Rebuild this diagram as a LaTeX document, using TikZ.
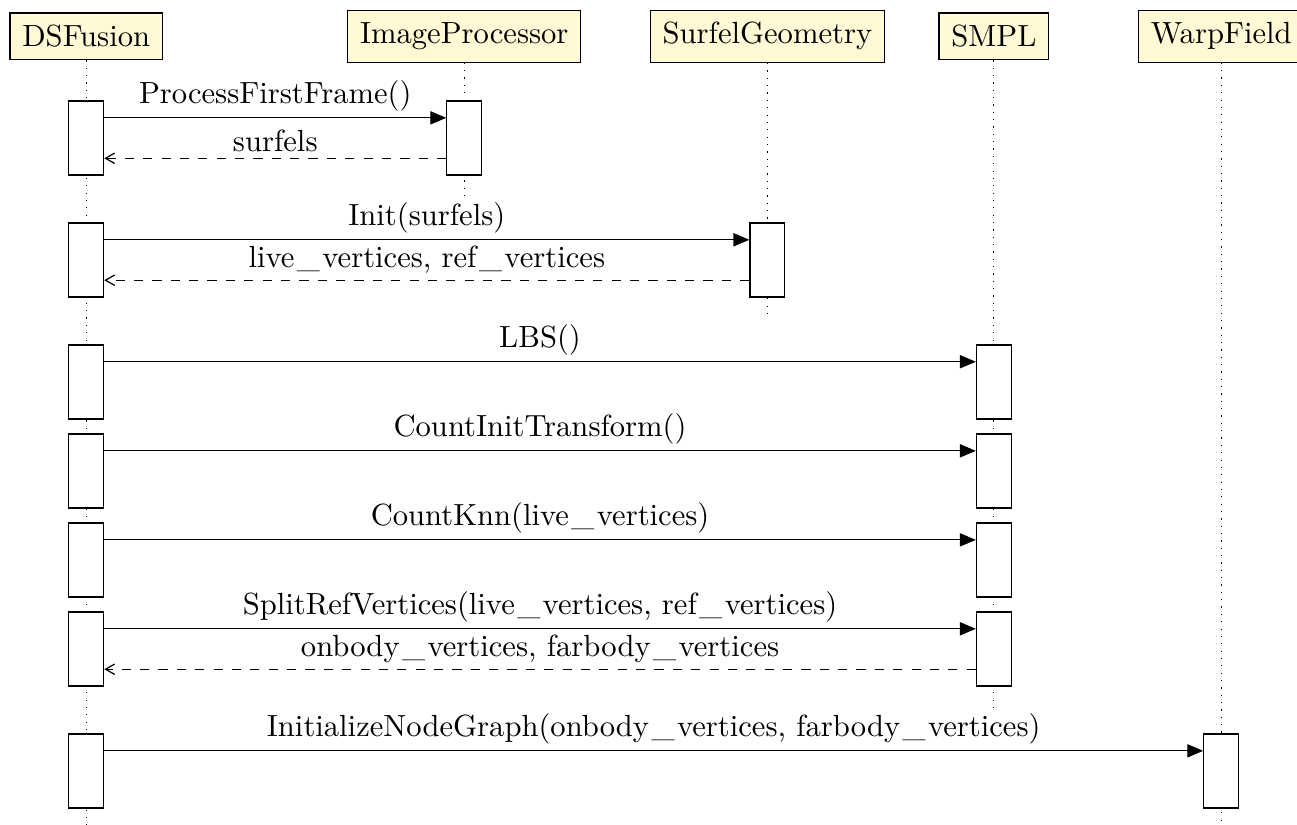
\documentclass[tikz,border=0pt]{standalone}
\usetikzlibrary{arrows.meta}

\definecolor{headfill}{HTML}{FFF9D5}
\newcommand{\us}{\kern0.8pt\_\kern0.8pt}
\tikzset{
  thread/.style={draw,fill=headfill,inner sep=4pt},
  act/.style={draw,fill=white,minimum width=0.4cm,minimum height=0.85cm,inner sep=0pt},
  life/.style={dotted},
  call/.style={-{Triangle[length=5.2pt,width=4.3pt]}},
  ret/.style={dashed,-{Straight Barb[length=3pt,width=3.4pt]}},
  msg/.style={above,inner sep=2pt}
}

\begin{document}
\begin{tikzpicture}
  \useasboundingbox (0,0) rectangle (14.89,-9.47);
  % threads
  \node[thread] (ds)   at (0.99,-0.417)  {DSFusion};
  \node[thread] (ip)   at (5.33,-0.417)  {ImageProcessor};
  \node[thread] (sg)   at (8.81,-0.417)  {SurfelGeometry};
  \node[thread] (smpl) at (11.41,-0.417) {SMPL};
  \node[thread] (wf)   at (14.02,-0.417) {WarpField};
  \coordinate (ds end)   at (0.99,-9.5);
  \coordinate (ip end)   at (5.33,-2.24);
  \coordinate (sg end)   at (8.81,-3.65);
  \coordinate (smpl end) at (11.41,-8.12);
  \coordinate (wf end)   at (14.02,-9.5);
  \draw[life] (ds) -- (ds end);
  \draw[life] (ip) -- (ip end);
  \draw[life] (sg) -- (sg end);
  \draw[life] (smpl) -- (smpl end);
  \draw[life] (wf) -- (wf end);
  % activations
  \node[act] (ds1) at (0.99,-1.585) {};
  \node[act] (ds2) at (0.99,-2.985) {};
  \node[act] (ds3) at (0.99,-4.385) {};
  \node[act] (ds4) at (0.99,-5.408) {};
  \node[act] (ds5) at (0.99,-6.430) {};
  \node[act] (ds6) at (0.99,-7.451) {};
  \node[act] (ds7) at (0.99,-8.852) {};
  \node[act] (ip1)   at (ip |- ds1)   {};
  \node[act] (sg1)   at (sg |- ds2)   {};
  \node[act] (smpl1) at (smpl |- ds3) {};
  \node[act] (smpl2) at (smpl |- ds4) {};
  \node[act] (smpl3) at (smpl |- ds5) {};
  \node[act] (smpl4) at (smpl |- ds6) {};
  \node[act] (wf1)   at (wf |- ds7)   {};
  % messages
  \draw[call] ([yshift=-0.2cm]ds1.north east) -- node[msg] {ProcessFirstFrame()} ([yshift=-0.2cm]ip1.north west);
  \draw[ret] ([yshift=0.2cm]ip1.south west) -- node[msg] {surfels} ([yshift=0.2cm]ds1.south east);
  \draw[call] ([yshift=-0.2cm]ds2.north east) -- node[msg] {Init(surfels)} ([yshift=-0.2cm]sg1.north west);
  \draw[ret] ([yshift=0.2cm]sg1.south west) -- node[msg] {live\us vertices, ref\us vertices} ([yshift=0.2cm]ds2.south east);
  \draw[call] ([yshift=-0.2cm]ds3.north east) -- node[msg] {LBS()} ([yshift=-0.2cm]smpl1.north west);
  \draw[call] ([yshift=-0.2cm]ds4.north east) -- node[msg] {CountInitTransform()} ([yshift=-0.2cm]smpl2.north west);
  \draw[call] ([yshift=-0.2cm]ds5.north east) -- node[msg] {CountKnn(live\us vertices)} ([yshift=-0.2cm]smpl3.north west);
  \draw[call] ([yshift=-0.2cm]ds6.north east) -- node[msg] {SplitRefVertices(live\us vertices, ref\us vertices)} ([yshift=-0.2cm]smpl4.north west);
  \draw[ret] ([yshift=0.2cm]smpl4.south west) -- node[msg] {onbody\us vertices, farbody\us vertices} ([yshift=0.2cm]ds6.south east);
  \draw[call] ([yshift=-0.2cm]ds7.north east) -- node[msg] {InitializeNodeGraph(onbody\us vertices, farbody\us vertices)} ([yshift=-0.2cm]wf1.north west);
\end{tikzpicture}
\end{document}
